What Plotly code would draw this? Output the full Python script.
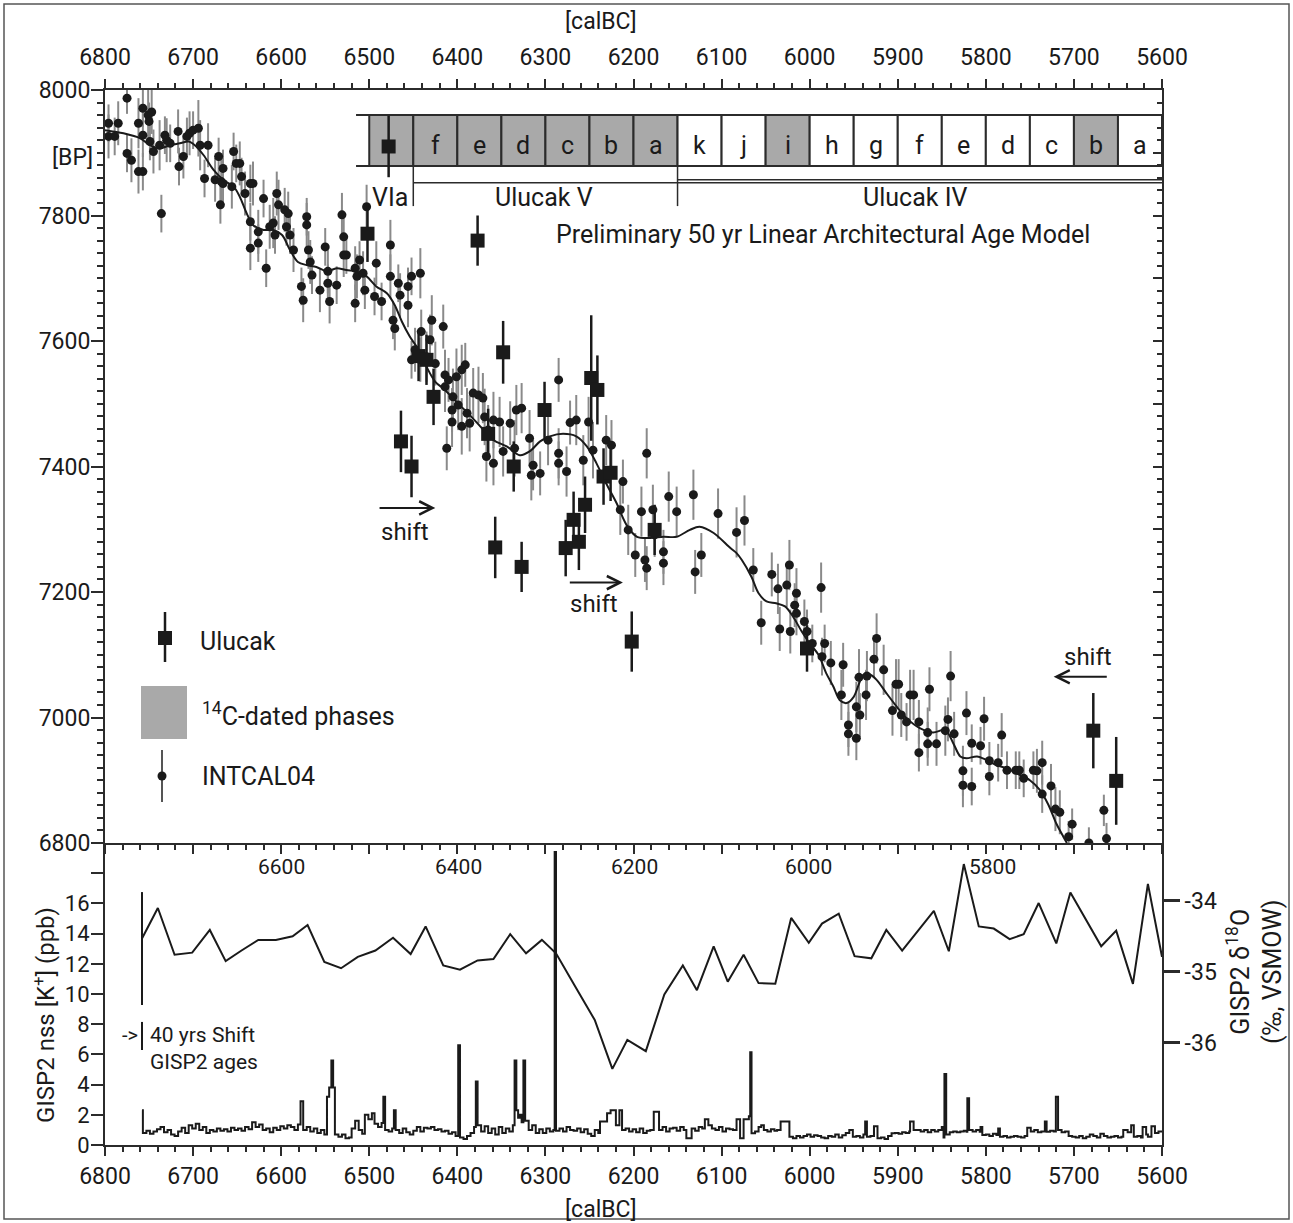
import plotly.graph_objects as go

FONT = "Roboto, 'Open Sans', Arial, sans-serif"
INK = "#1a1a1a"
AX = "#2b2b2b"
GRAY = "#a9a9a9"

# ---------------- data ----------------
intcal_year = [6796, 6796, 6789, 6785, 6775, 6775, 6770, 6762, 6762, 6757,
               6757, 6757, 6751, 6750, 6747, 6749, 6745, 6738, 6732, 6730,
               6726, 6736, 6717, 6716, 6711, 6707, 6704, 6700, 6694, 6692,
               6687, 6683, 6675, 6671, 6668, 6666, 6669, 6666, 6654, 6656,
               6651, 6647, 6645, 6641, 6635, 6632, 6635, 6626, 6626, 6635,
               6620, 6617, 6613, 6609, 6607, 6605, 6603, 6596, 6594, 6592,
               6590, 6586, 6577, 6575, 6571, 6571, 6569, 6567, 6565, 6556,
               6550, 6547, 6547, 6545, 6537, 6531, 6529, 6529, 6526, 6516,
               6516, 6514, 6511, 6507, 6505, 6503, 6494, 6492, 6486, 6476,
               6476, 6473, 6471, 6467, 6465, 6456, 6456, 6452, 6442, 6441,
               6429, 6416, 6448, 6431, 6452, 6442, 6435, 6425, 6414, 6410,
               6401, 6395, 6391, 6414, 6405, 6399, 6406, 6406, 6395, 6389,
               6386, 6382, 6376, 6371, 6369, 6365, 6359, 6367, 6359, 6412,
               6352, 6340, 6348, 6335, 6333, 6327, 6318, 6314, 6306, 6316,
               6297, 6285, 6285, 6285, 6276, 6272, 6265, 6257, 6251, 6246,
               6231, 6225, 6212, 6215, 6206, 6191, 6185, 6178, 6176, 6160,
               6151, 6132, 6104, 6198, 6187, 6185, 6166, 6166, 6130, 6123,
               6083, 6074, 6064, 6043, 6036, 6026, 6023, 6015, 6017, 6015,
               6055, 6034, 6022, 6006, 6003, 5987, 5924, 5997, 5983, 5986,
               5976, 5962, 5964, 5956, 5956, 5947, 5947, 5943, 5944, 5935,
               5936, 5927, 5916, 5906, 5902, 5899, 5896, 5890, 5886, 5882,
               5876, 5876, 5866, 5866, 5864, 5856, 5846, 5843, 5840, 5836,
               5826, 5826, 5822, 5816, 5816, 5806, 5802, 5796, 5796, 5786,
               5782, 5776, 5766, 5762, 5757, 5746, 5742, 5736, 5736, 5726,
               5721, 5716, 5706, 5702, 5683, 5666, 5663]
intcal_bp = [7947, 7926, 7926, 7947, 7987, 7899, 7888, 7947, 7870, 7870,
             7971, 7928, 7960, 7950, 7965, 7918, 7902, 7912, 7928, 7920,
             7915, 7803, 7934, 7878, 7894, 7926, 7931, 7936, 7939, 7912,
             7859, 7912, 7857, 7894, 7854, 7875, 7817, 7851, 7902, 7846,
             7883, 7883, 7862, 7835, 7851, 7851, 7790, 7774, 7756, 7748,
             7827, 7716, 7782, 7788, 7769, 7835, 7817, 7809, 7782, 7803,
             7769, 7745, 7687, 7665, 7798, 7785, 7745, 7726, 7705, 7681,
             7750, 7711, 7692, 7663, 7689, 7801, 7766, 7737, 7737, 7716,
             7660, 7703, 7729, 7708, 7681, 7814, 7671, 7724, 7663, 7753,
             7703, 7633, 7620, 7692, 7673, 7687, 7657, 7703, 7708, 7615,
             7633, 7623, 7586, 7602, 7570, 7570, 7575, 7564, 7546, 7538,
             7543, 7554, 7562, 7527, 7511, 7498, 7490, 7471, 7464, 7485,
             7469, 7517, 7514, 7509, 7479, 7458, 7474, 7416, 7405, 7429,
             7471, 7469, 7424, 7429, 7490, 7493, 7445, 7402, 7389, 7386,
             7442, 7538, 7421, 7405, 7392, 7470, 7474, 7410, 7471, 7426,
             7442, 7434, 7376, 7331, 7299, 7328, 7421, 7331, 7291, 7352,
             7328, 7355, 7325, 7259, 7251, 7238, 7264, 7246, 7232, 7259,
             7295, 7314, 7235, 7228, 7205, 7211, 7243, 7198, 7179, 7166,
             7151, 7141, 7137, 7153, 7137, 7207, 7126, 7118, 7118, 7097,
             7087, 7084, 7036, 6988, 6974, 7017, 6967, 7004, 7064, 7066,
             7036, 7093, 7076, 7011, 7053, 7053, 7004, 6993, 7036, 7036,
             6993, 6944, 6976, 6958, 7045, 6958, 6979, 6997, 7066, 6974,
             6915, 6892, 7007, 6959, 6890, 6955, 6998, 6931, 6906, 6928,
             6972, 6916, 6916, 6916, 6903, 6916, 6915, 6928, 6878, 6891,
             6854, 6849, 6810, 6830, 6800, 6852, 6807]
intcal_err = [30, 35, 30, 35, 25, 30, 35, 40, 35, 30,
              30, 35, 40, 30, 35, 30, 35, 40, 30, 35,
              30, 30, 35, 30, 35, 30, 35, 30, 45, 40,
              30, 35, 35, 30, 35, 30, 30, 35, 30, 35,
              30, 35, 30, 35, 30, 35, 30, 35, 30, 35,
              30, 30, 35, 40, 30, 35, 40, 35, 30, 35,
              30, 35, 30, 35, 30, 35, 30, 35, 30, 35,
              30, 35, 30, 35, 30, 35, 30, 35, 30, 35,
              30, 35, 30, 35, 30, 35, 30, 35, 30, 40,
              35, 30, 35, 30, 35, 30, 35, 30, 40, 35,
              40, 35, 35, 40, 30, 35, 40, 35, 40, 35,
              45, 40, 35, 40, 45, 40, 35, 40, 45, 40,
              45, 40, 45, 40, 45, 40, 45, 40, 35, 35,
              40, 35, 40, 45, 40, 40, 45, 40, 35, 40,
              40, 35, 40, 35, 40, 35, 40, 40, 40, 45,
              40, 40, 35, 40, 40, 40, 40, 40, 35, 40,
              40, 40, 40, 35, 35, 35, 35, 35, 35, 35,
              40, 40, 35, 35, 40, 35, 40, 40, 35, 35,
              35, 35, 35, 35, 35, 40, 40, 30, 30, 30,
              35, 35, 40, 35, 35, 40, 35, 35, 45, 40,
              40, 30, 40, 40, 40, 40, 35, 30, 40, 40,
              35, 30, 40, 35, 35, 35, 40, 35, 40, 35,
              40, 35, 35, 30, 30, 30, 35, 30, 30, 30,
              35, 30, 30, 30, 30, 30, 35, 35, 30, 35,
              35, 35, 25, 25, 25, 25, 25]

curve_year = [6800, 6779, 6760, 6749, 6738, 6726, 6715, 6705, 6698, 6688,
              6677, 6666, 6654, 6647, 6639, 6632, 6620, 6609, 6599, 6590,
              6581, 6571, 6560, 6548, 6537, 6526, 6514, 6503, 6492, 6480,
              6471, 6463, 6454, 6444, 6435, 6425, 6414, 6401, 6388, 6374,
              6359, 6344, 6329, 6318, 6306, 6295, 6280, 6265, 6253, 6242,
              6231, 6219, 6208, 6196, 6181, 6166, 6151, 6136, 6125, 6109,
              6090, 6083, 6077, 6066, 6058, 6049, 6038, 6028, 6019, 6009,
              6000, 5990, 5981, 5973, 5966, 5958, 5950, 5939, 5932, 5924,
              5913, 5901, 5890, 5875, 5860, 5846, 5837, 5829, 5822, 5810,
              5799, 5788, 5776, 5765, 5750, 5739, 5729, 5720, 5712, 5708]
curve_bp = [7936, 7931, 7923, 7912, 7907, 7912, 7915, 7918, 7912, 7896,
            7873, 7857, 7846, 7830, 7803, 7785, 7777, 7777, 7769, 7745,
            7726, 7721, 7718, 7711, 7716, 7713, 7711, 7703, 7687, 7676,
            7657, 7631, 7607, 7586, 7559, 7535, 7522, 7503, 7485, 7464,
            7442, 7432, 7418, 7424, 7440, 7448, 7452, 7448, 7432, 7405,
            7373, 7341, 7307, 7288, 7286, 7288, 7288, 7299, 7304, 7294,
            7270, 7262, 7251, 7224, 7198, 7185, 7182, 7177, 7161, 7137,
            7118, 7100, 7070, 7049, 7028, 7023, 7033, 7068, 7069, 7060,
            7039, 7017, 6999, 6983, 6976, 6980, 6959, 6938, 6935, 6938,
            6932, 6924, 6919, 6911, 6900, 6885, 6861, 6831, 6810, 6800]

ulucak_year = [6478, 6502, 6377, 6444, 6435, 6427, 6464, 6452, 6348, 6301,
               6248, 6241, 6357, 6327, 6255, 6268, 6262, 6277, 6336, 6234,
               6226, 6176, 6365, 6202, 6003, 5678, 5652]
ulucak_bp = [7910, 7771, 7760, 7576, 7570, 7511, 7440, 7400, 7582, 7490,
             7541, 7522, 7271, 7240, 7339, 7315, 7280, 7270, 7400, 7384,
             7390, 7299, 7452, 7121, 7110, 6979, 6899]
ulucak_err = [49, 45, 40, 40, 40, 45, 49, 49, 50, 45,
              100, 55, 49, 40, 45, 45, 45, 45, 40, 45,
              45, 40, 40, 48, 37, 60, 70]

phase_edges = [6500, 6450, 6400, 6350, 6300, 6250, 6200, 6150, 6100, 6050,
               6000, 5950, 5900, 5850, 5800, 5750, 5700, 5650, 5600]
phase_labels = ["", "f", "e", "d", "c", "b", "a", "k", "j", "i",
                "h", "g", "f", "e", "d", "c", "b", "a"]
phase_dated = [1, 1, 1, 1, 1, 1, 1, 0, 0, 1, 0, 0, 0, 0, 0, 0, 1, 0]
period_names = ["VIa", "Ulucak V", "Ulucak IV"]
period_label_x = [6477, 6302, 5880]
period_bounds = [6450, 6150]

k_year = [6758, 6757, 6753, 6749, 6745, 6741, 6737, 6733, 6729, 6725,
          6721, 6717, 6713, 6709, 6705, 6701, 6697, 6693, 6689, 6685,
          6681, 6677, 6673, 6669, 6665, 6661, 6657, 6653, 6649, 6645,
          6641, 6637, 6633, 6629, 6625, 6621, 6617, 6613, 6609, 6605,
          6601, 6597, 6593, 6589, 6585, 6581, 6578, 6575, 6571, 6567,
          6563, 6559, 6555, 6551, 6548, 6545.5, 6543, 6541, 6539, 6535,
          6531, 6527, 6523, 6520, 6516, 6512, 6508, 6505, 6501, 6497,
          6494, 6490, 6486, 6484, 6482, 6478, 6474, 6472, 6470, 6466,
          6462, 6458, 6454, 6450, 6446, 6442, 6438, 6434, 6430, 6426,
          6422, 6418, 6414, 6410, 6406, 6402, 6399, 6397, 6393, 6389,
          6385, 6381, 6379, 6377, 6373, 6369, 6365, 6361, 6357, 6353,
          6349, 6345, 6341, 6337, 6335, 6333, 6331, 6329, 6327, 6325,
          6323, 6319, 6315, 6311, 6307, 6303, 6299, 6295, 6291, 6289.5,
          6288, 6284, 6280, 6276, 6272, 6268, 6264, 6260, 6256, 6252,
          6248, 6244, 6240, 6238, 6230, 6226, 6220, 6216, 6213, 6209,
          6205, 6201, 6197, 6193, 6189, 6185, 6181, 6177, 6171, 6167,
          6163, 6159, 6155, 6151, 6147, 6143, 6140, 6134, 6130, 6126,
          6122, 6119, 6115, 6111, 6107, 6103, 6099, 6095, 6091, 6087,
          6083, 6079, 6075, 6069, 6067.5, 6066, 6062, 6058, 6055, 6052,
          6048, 6044, 6040, 6037, 6033, 6023, 6019, 6015, 6011, 6007,
          6003, 5999, 5995, 5991, 5987, 5983, 5979, 5975, 5971, 5967,
          5963, 5959, 5955, 5951, 5947, 5943, 5939, 5937, 5935, 5931,
          5927, 5923, 5919, 5915, 5911, 5907, 5903, 5899, 5895, 5891,
          5887, 5886, 5882, 5878, 5874, 5870, 5866, 5862, 5858, 5854,
          5850, 5848, 5847, 5845, 5841, 5837, 5833, 5829, 5825, 5822,
          5821, 5819, 5815, 5811, 5807, 5806, 5804, 5800, 5796, 5792,
          5788, 5786, 5784, 5780, 5776, 5772, 5768, 5764, 5760, 5756,
          5753, 5749, 5745, 5741, 5737, 5733, 5731, 5727, 5723, 5720.5,
          5718, 5714, 5710, 5706, 5702, 5698, 5694, 5690, 5686, 5682,
          5678, 5674, 5670, 5666, 5662, 5658, 5654, 5650, 5646, 5644,
          5639, 5635, 5632, 5628, 5624, 5622, 5618, 5616, 5612, 5608,
          5604, 5600]
k_ppb = [2.3, 0.8, 0.95, 0.75, 0.9, 1.05, 1.2, 0.85, 1.0, 0.7,
         0.6, 0.9, 1.15, 0.8, 1.3, 1.1, 1.4, 1.0, 1.2, 0.8,
         1.0, 0.9, 1.1, 0.95, 1.05, 0.9, 1.15, 1.0, 1.1, 0.95,
         1.2, 1.05, 1.5, 1.2, 1.35, 1.0, 1.1, 0.85, 1.15, 1.0,
         1.25, 1.1, 1.3, 1.2, 1.0, 1.35, 2.9, 1.0, 1.2, 0.9,
         1.1, 0.8, 1.0, 0.7, 3.2, 3.8, 5.6, 3.8, 0.7, 0.55,
         0.7, 0.45, 0.5, 1.1, 1.6, 1.0, 0.75, 2.0, 1.7, 2.1,
         1.4, 1.2, 1.45, 3.2, 1.0, 0.9, 1.1, 2.3, 1.0, 0.8,
         1.1, 0.85, 0.7, 0.95, 1.2, 0.9, 1.15, 1.1, 1.2, 1.0,
         1.05, 0.9, 0.95, 0.75, 0.85, 0.6, 6.6, 0.5, 0.4, 0.6,
         0.8, 1.2, 4.2, 1.3, 0.9, 1.25, 0.8, 1.1, 0.7, 1.2,
         0.8, 1.1, 0.9, 1.3, 5.6, 2.3, 1.8, 2.0, 1.5, 5.6,
         1.6, 1.0, 1.3, 0.8, 1.05, 0.8, 1.1, 0.9, 1.0, 19.4,
         0.95, 1.1, 0.9, 1.2, 1.0, 0.95, 1.1, 0.85, 1.05, 0.75,
         0.6, 1.0, 0.8, 1.55, 2.1, 2.3, 1.3, 2.3, 0.99, 1.1,
         0.9, 1.05, 0.85, 1.1, 0.8, 0.95, 0.99, 2.2, 0.99, 1.2,
         0.9, 1.1, 1.15, 0.95, 1.2, 1.0, 0.45, 1.1, 0.95, 1.2,
         1.1, 1.7, 1.3, 1.1, 1.0, 1.2, 0.9, 1.1, 1.05, 1.0,
         1.7, 0.45, 1.7, 1.9, 6.15, 0.77, 0.9, 1.2, 1.3, 0.99,
         0.9, 1.05, 0.95, 1.0, 1.55, 0.55, 0.44, 0.6, 0.5, 0.6,
         0.7, 0.55, 0.65, 0.6, 0.5, 0.44, 0.6, 0.55, 0.7, 0.5,
         0.65, 0.8, 1.0, 0.55, 0.6, 0.5, 0.7, 1.55, 0.55, 0.6,
         1.25, 0.44, 0.5, 0.4, 0.6, 0.77, 0.8, 0.75, 0.85, 0.8,
         0.9, 1.55, 0.99, 1.0, 0.9, 0.99, 0.85, 1.0, 0.9, 0.99,
         1.2, 0.5, 4.7, 0.7, 0.85, 0.9, 0.85, 0.9, 0.95, 0.88,
         3.1, 0.99, 0.9, 0.99, 0.88, 1.2, 0.66, 0.7, 0.6, 0.75,
         0.66, 1.1, 0.55, 0.6, 0.5, 0.55, 0.6, 0.55, 0.5, 0.6,
         1.15, 0.9, 0.99, 0.85, 0.9, 1.55, 0.88, 0.95, 0.9, 3.2,
         1.0, 0.85, 0.9, 0.6, 0.55, 0.5, 0.6, 0.45, 0.55, 0.7,
         0.6, 0.5, 0.75, 0.6, 0.5, 0.55, 0.6, 0.5, 0.55, 0.99,
         0.85, 1.3, 0.55, 0.6, 0.5, 1.2, 0.7, 0.55, 1.25, 0.8,
         0.9, 0.85]

d18o_year = [6758, 6740, 6721, 6701, 6681, 6663, 6645, 6626, 6606, 6587,
             6570, 6551, 6532, 6513, 6493, 6473, 6453, 6436, 6416, 6397,
             6377, 6359, 6340, 6322, 6304, 6288, 6266, 6244, 6224, 6207,
             6186, 6165, 6144, 6128, 6109, 6093, 6075, 6058, 6039, 6021,
             6001, 5986, 5967, 5949, 5930, 5913, 5895, 5859, 5842, 5825,
             5808, 5791, 5773, 5757, 5740, 5720, 5704, 5669, 5652, 5633,
             5616, 5600]
d18o_val = [-34.53, -34.10, -34.76, -34.73, -34.41, -34.85, -34.70, -34.55, -34.55, -34.50,
            -34.34, -34.86, -34.95, -34.79, -34.70, -34.52, -34.75, -34.36, -34.91, -34.97,
            -34.84, -34.82, -34.47, -34.74, -34.55, -34.74, -35.21, -35.68, -36.37, -35.96,
            -36.12, -35.32, -34.91, -35.26, -34.64, -35.14, -34.76, -35.16, -35.17, -34.24,
            -34.59, -34.32, -34.18, -34.78, -34.81, -34.41, -34.70, -34.14, -34.71, -33.48,
            -34.36, -34.39, -34.54, -34.47, -34.03, -34.60, -33.88, -34.64, -34.42, -35.17,
            -33.76, -34.79]

x_ticks = [6800, 6700, 6600, 6500, 6400, 6300, 6200, 6100, 6000, 5900, 5800, 5700, 5600]
bp_ticks = [6800, 7000, 7200, 7400, 7600, 7800, 8000]
k_ticks = [0, 2, 4, 6, 8, 10, 12, 14, 16, 18]
k_tick_text = ["0", "2", "4", "6", "8", "10", "12", "14", "16", ""]
d18o_ticks = [-36, -35, -34]
d18o_tick_text = ["-36", "-35", "-34"]
gisp_age_labels = ["6600", "6400", "6200", "6000", "5800"]
gisp_age_pos = [6600, 6399, 6199, 6001, 5792]

assert len(intcal_year) == len(intcal_bp) == len(intcal_err)
assert len(k_year) == len(k_ppb)
assert len(curve_year) == len(curve_bp)
assert len(d18o_year) == len(d18o_val)

# ---------------- geometry ----------------
W, H = 1293, 1223
L, R, T, B = 105, 131, 90, 78
PW, PH = W - L - R, H - T - B


def xp(px):
    return (px - L) / PW


def yp(py):
    return (H - B - py) / PH


split = yp(843)
BP_RANGE = [6800, 8000]
K_RANGE = [0, 20]
D18_RANGE = [-37.444, -33.183]

fig = go.Figure()

fig.add_trace(go.Scatter(
    x=intcal_year, y=intcal_bp, mode="markers", xaxis="x2", yaxis="y",
    marker=dict(color=INK, size=9, line=dict(width=0)),
    error_y=dict(type="data", array=intcal_err, color="#8a8a8a", thickness=2, width=0),
    showlegend=False, hoverinfo="skip"))
fig.add_trace(go.Scatter(
    x=curve_year, y=curve_bp, mode="lines", xaxis="x2", yaxis="y",
    line=dict(color=INK, width=2, shape="spline", smoothing=0.9),
    showlegend=False, hoverinfo="skip"))
fig.add_trace(go.Scatter(
    x=ulucak_year, y=ulucak_bp, mode="markers", xaxis="x2", yaxis="y",
    marker=dict(symbol="square", color=INK, size=14, line=dict(width=0)),
    error_y=dict(type="data", array=ulucak_err, color=INK, thickness=2.5, width=0),
    showlegend=False, hoverinfo="skip"))
fig.add_trace(go.Scatter(x=[None], y=[None], xaxis="x2", yaxis="y4",
                         showlegend=False, hoverinfo="skip"))
fig.add_trace(go.Scatter(
    x=k_year, y=k_ppb, mode="lines", xaxis="x", yaxis="y3",
    line=dict(color=INK, width=2, shape="hv"), showlegend=False, hoverinfo="skip"))
fig.add_trace(go.Scatter(
    x=d18o_year, y=d18o_val, mode="lines", xaxis="x", yaxis="y5",
    line=dict(color=INK, width=2), showlegend=False, hoverinfo="skip"))

tickfont = dict(family=FONT, size=23, color=INK)
smallfont = dict(family=FONT, size=22, color=INK)
common_x = dict(range=[6800, 5600], tickmode="array", tickvals=x_ticks,
                ticktext=[str(v) for v in x_ticks], ticks="outside", ticklen=9,
                tickwidth=2, tickcolor=AX, showline=True, linewidth=2, linecolor=AX,
                showgrid=False, zeroline=False, tickfont=tickfont,
                minor=dict(tickmode="linear", tick0=5600, dtick=20, ticks="outside",
                           ticklen=5, tickwidth=1.5, tickcolor=AX, showgrid=False))

fig.update_layout(
    width=W, height=H, margin=dict(l=L, r=R, t=T, b=B),
    paper_bgcolor="white", plot_bgcolor="white", font=dict(family=FONT, color=INK),
    showlegend=False,
    xaxis=dict(domain=[0, 1], anchor="y3", ticklabelstandoff=0, **common_x),
    xaxis2=dict(domain=[0, 1], anchor="y", side="top", mirror="ticks",
                ticklabelstandoff=5, **common_x),
    yaxis=dict(domain=[split, 1], anchor="x2", range=BP_RANGE, tickmode="array",
               tickvals=bp_ticks, ticktext=[str(v) for v in bp_ticks],
               ticks="outside", ticklen=12, tickwidth=2, tickcolor=AX,
               ticklabelstandoff=-4,
               showline=True, linewidth=2, linecolor=AX, showgrid=False, zeroline=False,
               tickfont=tickfont,
               minor=dict(tickmode="linear", tick0=6800, dtick=20, ticks="outside",
                          ticklen=6, tickwidth=1.5, tickcolor=AX, showgrid=False)),
    yaxis4=dict(overlaying="y", side="right", anchor="x2", range=BP_RANGE,
                tickmode="linear", tick0=6800, dtick=100, ticks="inside", ticklen=9,
                tickwidth=2, tickcolor=AX, showticklabels=False, showline=True,
                linewidth=2, linecolor=AX, showgrid=False, zeroline=False,
                minor=dict(tickmode="linear", tick0=6800, dtick=20, ticks="inside",
                           ticklen=5, tickwidth=1.5, tickcolor=AX, showgrid=False)),
    yaxis3=dict(domain=[0, split], anchor="x", range=K_RANGE, tickmode="array",
                tickvals=k_ticks, ticktext=k_tick_text, ticks="outside", ticklen=12,
                tickwidth=2, tickcolor=AX, ticklabelstandoff=-3,
                showline=True, linewidth=2, linecolor=AX,
                showgrid=False, zeroline=False, tickfont=smallfont),
    yaxis5=dict(overlaying="y3", side="right", anchor="x", range=D18_RANGE,
                tickmode="array", tickvals=d18o_ticks, ticktext=d18o_tick_text,
                ticks="outside", ticklen=16, tickwidth=2.5, tickcolor=AX,
                showline=True, linewidth=2, linecolor=AX, showgrid=False,
                zeroline=False, tickfont=tickfont),
)

shapes = []
annotations = []


def paper_text(text, px_, py_, size, xanchor="center", angle=0):
    annotations.append(dict(xref="paper", yref="paper", x=xp(px_), y=yp(py_), text=text,
                            showarrow=False, xanchor=xanchor, yanchor="middle",
                            textangle=angle, font=dict(family=FONT, size=size, color=INK)))


# outer frame
shapes.append(dict(type="rect", xref="paper", yref="paper", x0=xp(4), x1=xp(1289),
                   y0=yp(1219), y1=yp(4), line=dict(color="#555", width=1.5), layer="below"))

# phase boxes
BOX_TOP, BOX_BOT = 7960, 7879
LETTER_Y = 7912
for i, lab in enumerate(phase_labels):
    x0, x1 = phase_edges[i], phase_edges[i + 1]
    shapes.append(dict(type="rect", xref="x2", yref="y", x0=x0, x1=x1, y0=BOX_BOT, y1=BOX_TOP,
                       fillcolor=GRAY if phase_dated[i] else "white",
                       line=dict(color=AX, width=2), layer="below"))
    if lab:
        annotations.append(dict(xref="x2", yref="y", x=(x0 + x1) / 2, y=LETTER_Y, text=lab,
                                showarrow=False, xanchor="center", yanchor="middle",
                                font=dict(family=FONT, size=25, color=INK)))
for yv in (BOX_TOP, BOX_BOT):
    shapes.append(dict(type="line", xref="x2", yref="y", x0=6515, x1=5600, y0=yv, y1=yv,
                       line=dict(color=AX, width=2), layer="below"))
shapes.append(dict(type="line", xref="x2", yref="y", x0=period_bounds[0], x1=5600,
                   y0=7852, y1=7852, line=dict(color=AX, width=1.5), layer="below"))
shapes.append(dict(type="line", xref="x2", yref="y", x0=period_bounds[1], x1=5600,
                   y0=7857, y1=7857, line=dict(color=AX, width=1.5), layer="below"))
for xb in period_bounds:
    shapes.append(dict(type="line", xref="x2", yref="y", x0=xb, x1=xb, y0=BOX_BOT, y1=7815,
                       line=dict(color=AX, width=1.5), layer="below"))
for name, xv in zip(period_names, period_label_x):
    annotations.append(dict(xref="x2", yref="y", x=xv, y=7828, text=name, showarrow=False,
                            xanchor="center", yanchor="middle",
                            font=dict(family=FONT, size=25, color=INK)))
annotations.append(dict(xref="x2", yref="y", x=5985, y=7769,
                        text="Preliminary 50 yr Linear Architectural Age Model",
                        showarrow=False, xanchor="center", yanchor="middle",
                        font=dict(family=FONT, size=25, color=INK)))

# shift arrows
for head, tail, yv, tx, ty in [(6425, 6490, 7334, 6459, 7296),
                               (6212, 6274, 7215, 6245, 7181),
                               (5723, 5661, 7065, 5684, 7096)]:
    annotations.append(dict(xref="x2", yref="y", axref="x2", ayref="y", x=head, y=yv,
                            ax=tail, ay=yv, text="", showarrow=True, arrowhead=5,
                            arrowsize=1.3, arrowwidth=2, arrowcolor=INK, standoff=0))
    annotations.append(dict(xref="x2", yref="y", x=tx, y=ty, text="shift", showarrow=False,
                            xanchor="center", yanchor="middle",
                            font=dict(family=FONT, size=24, color=INK)))

# legend (drawn)
shapes.append(dict(type="line", xref="paper", yref="paper", x0=xp(165), x1=xp(165),
                   y0=yp(662), y1=yp(612), line=dict(color=INK, width=2.5)))
shapes.append(dict(type="rect", xref="paper", yref="paper", x0=xp(158), x1=xp(172),
                   y0=yp(645), y1=yp(631), fillcolor=INK, line=dict(width=0)))
shapes.append(dict(type="rect", xref="paper", yref="paper", x0=xp(141), x1=xp(187),
                   y0=yp(739), y1=yp(686), fillcolor=GRAY, line=dict(width=0)))
shapes.append(dict(type="line", xref="paper", yref="paper", x0=xp(162), x1=xp(162),
                   y0=yp(802), y1=yp(750), line=dict(color="#555", width=2)))
shapes.append(dict(type="circle", xref="paper", yref="paper", x0=xp(157.5), x1=xp(166.5),
                   y0=yp(780.5), y1=yp(771.5), fillcolor=INK, line=dict(width=0)))
paper_text("Ulucak", 198, 641, 25, xanchor="left")
paper_text("<sup>14</sup>C-dated phases", 200, 714, 25, xanchor="left")
paper_text("INTCAL04", 200, 776, 25, xanchor="left")

# bottom panel decorations
shapes.append(dict(type="line", xref="x", yref="y3", x0=6758, x1=6758, y0=9.27, y1=16.75,
                   line=dict(color=INK, width=2)))
shapes.append(dict(type="line", xref="x", yref="y3", x0=6758, x1=6758, y0=6.29, y1=8.15,
                   line=dict(color=INK, width=2)))
annotations.append(dict(xref="x", yref="y3", x=6760, y=7.3, text="->", showarrow=False,
                        xanchor="right", yanchor="middle",
                        font=dict(family=FONT, size=20, color=INK)))
annotations.append(dict(xref="x", yref="y3", x=6751, y=7.28, text="40 yrs Shift",
                        showarrow=False, xanchor="left", yanchor="middle",
                        font=dict(family=FONT, size=21, color=INK)))
annotations.append(dict(xref="x", yref="y3", x=6751, y=5.5, text="GISP2 ages",
                        showarrow=False, xanchor="left", yanchor="middle",
                        font=dict(family=FONT, size=21, color=INK)))
for lab, xv in zip(gisp_age_labels, gisp_age_pos):
    annotations.append(dict(xref="x", yref="y3", x=xv, y=18.4, text=lab, showarrow=False,
                            xanchor="center", yanchor="middle",
                            font=dict(family=FONT, size=21, color=INK)))

# axis titles / units
paper_text("[BP]", 72, 157, 23)
paper_text("[calBC]", 601, 21, 23)
paper_text("[calBC]", 601, 1209, 23)
paper_text("GISP2 nss [K<sup>+</sup>] (ppb)", 44, 1015, 24, angle=-90)
paper_text("GISP2 δ<sup>18</sup>O<br>(‰, VSMOW)", 1254, 972, 25, angle=-90)

fig.update_layout(shapes=shapes, annotations=annotations)
fig.write_html("out.html")
